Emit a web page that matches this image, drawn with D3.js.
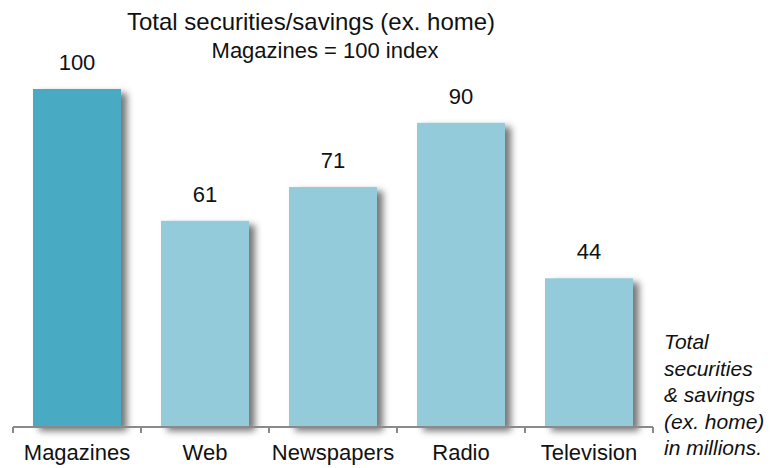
<!DOCTYPE html>
<html>
<head>
<meta charset="utf-8">
<script src="https://cdn.jsdelivr.net/npm/d3@7"></script>
<style>
  body { margin: 0; background: #fff; }
  svg { font-family: "Liberation Sans", Arial, Helvetica, sans-serif; }
</style>
</head>
<body>
<div id="chart"></div>
<script>
// Données
const categories = ["Magazines", "Web", "Newspapers", "Radio", "Television"];
const values = [100, 61, 71, 90, 44];
const barColors = ["#4aaac4", "#94cbdb", "#94cbdb", "#94cbdb", "#94cbdb"];
const noteLines = ["Total", "securities", "& savings", "(ex. home)", "in millions."];

const width = 784, height = 468;

const svg = d3.select("#chart")
    .append("svg")
    .attr("width", width)
    .attr("height", height);

// ombre portée à droite des barres
const defs = svg.append("defs");
const filter = defs.append("filter")
    .attr("id", "shadow")
    .attr("x", "-10%").attr("y", "-10%")
    .attr("width", "140%").attr("height", "130%");
filter.append("feGaussianBlur").attr("in", "SourceAlpha").attr("stdDeviation", 3.5).attr("result", "blur");
filter.append("feOffset").attr("in", "blur").attr("dx", 6).attr("dy", 4).attr("result", "off");
filter.append("feComponentTransfer").attr("in", "off").attr("result", "shadowDim")
    .append("feFuncA").attr("type", "linear").attr("slope", 0.85);
filter.append("feFlood").attr("flood-color", "#5e5e5e").attr("result", "col");
filter.append("feComposite").attr("in", "col").attr("in2", "shadowDim").attr("operator", "in").attr("result", "shadow");
const merge = filter.append("feMerge");
merge.append("feMergeNode").attr("in", "shadow");
merge.append("feMergeNode").attr("in", "SourceGraphic");

// Échelles
const x = d3.scaleBand()
    .domain(categories)
    .range([13, 653])
    .paddingInner(0.3125)
    .paddingOuter(0.15625);

const y = d3.scaleLinear()
    .domain([0, 100])
    .range([427, 89]);

// Titre
svg.append("text")
    .attr("x", 311).attr("y", 30)
    .attr("text-anchor", "middle")
    .attr("font-size", 24)
    .attr("fill", "#111")
    .text("Total securities/savings (ex. home)");

svg.append("text")
    .attr("x", 325).attr("y", 58)
    .attr("text-anchor", "middle")
    .attr("font-size", 22)
    .attr("fill", "#111")
    .text("Magazines = 100 index");

// Barres
svg.selectAll(".bar")
    .data(values)
    .enter().append("rect")
    .attr("class", "bar")
    .attr("x", (d, i) => x(categories[i]))
    .attr("y", d => y(d))
    .attr("width", x.bandwidth())
    .attr("height", d => y(0) - y(d))
    .attr("fill", (d, i) => barColors[i])
    .attr("filter", "url(#shadow)");

// Étiquettes de valeur
svg.selectAll(".val")
    .data(values)
    .enter().append("text")
    .attr("class", "val")
    .attr("x", (d, i) => x(categories[i]) + x.bandwidth() / 2)
    .attr("y", d => y(d) - 19)
    .attr("text-anchor", "middle")
    .attr("font-size", 22)
    .attr("fill", "#111")
    .text(d => d);

// Axe X
const axis = svg.append("g")
    .attr("transform", "translate(0,427)")
    .call(d3.axisBottom(x).tickSize(0).tickPadding(17));

axis.select(".domain").remove();
axis.selectAll("text")
    .attr("font-size", 22)
    .attr("fill", "#111")
    .attr("font-family", "Liberation Sans, Arial, sans-serif");

axis.append("line")
    .attr("x1", 13).attr("x2", 653)
    .attr("stroke", "#8a8a8a").attr("stroke-width", 2);

const step = x.step();
axis.selectAll(".sep")
    .data(d3.range(categories.length + 1))
    .enter().append("line")
    .attr("class", "sep")
    .attr("x1", i => 13 + i * step)
    .attr("x2", i => 13 + i * step)
    .attr("y1", 0).attr("y2", 6)
    .attr("stroke", "#8a8a8a").attr("stroke-width", 2);

// Note à droite
svg.append("text")
    .attr("x", 664).attr("y", 349)
    .attr("font-size", 21)
    .attr("font-style", "italic")
    .attr("fill", "#111")
    .selectAll("tspan")
    .data(noteLines)
    .enter().append("tspan")
    .attr("x", 664)
    .attr("dy", (d, i) => i === 0 ? 0 : 26.5)
    .text(d => d);
</script>
</body>
</html>
